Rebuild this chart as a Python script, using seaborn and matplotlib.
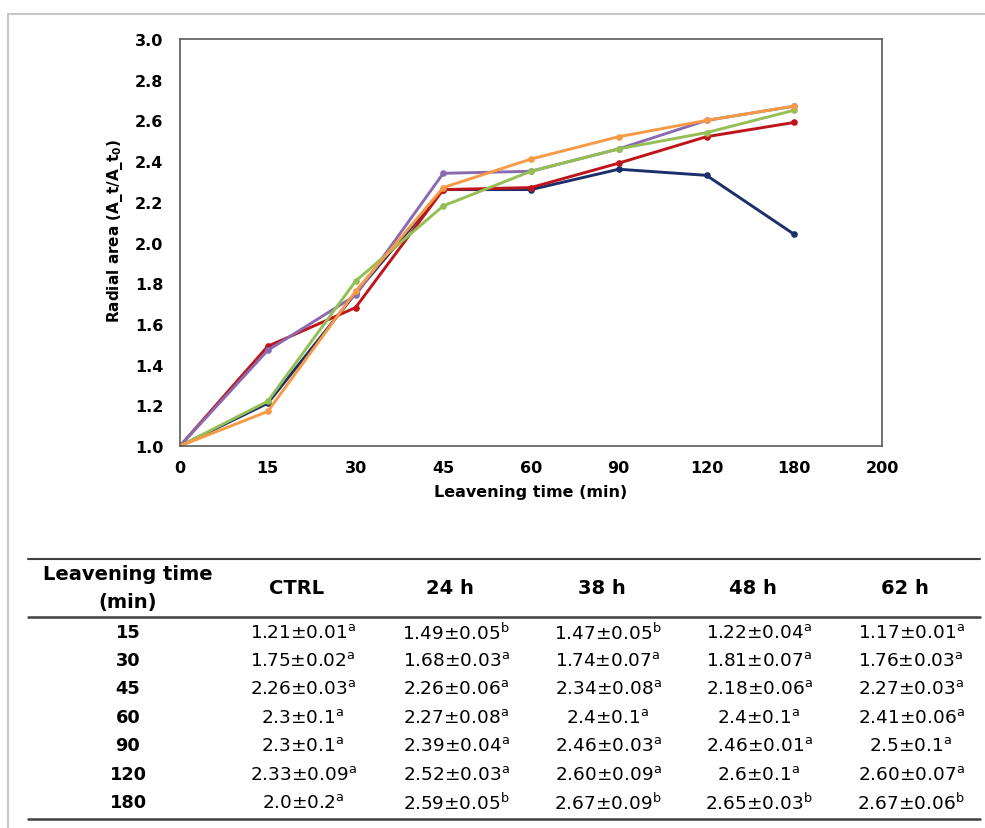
import numpy as np
import pandas as pd
import seaborn as sns
import matplotlib
matplotlib.use("Agg")
import matplotlib.pyplot as plt
from matplotlib.lines import Line2D

# ---------------- data ----------------
time_points = [0, 15, 30, 45, 60, 90, 120, 180]
x_tick_labels = ["0", "15", "30", "45", "60", "90", "120", "180", "200"]
series_names = ["CTRL", "24 h", "38 h", "48 h", "62 h"]
ctrl = [1.00, 1.21, 1.75, 2.26, 2.26, 2.36, 2.33, 2.04]
h24 = [1.00, 1.49, 1.68, 2.26, 2.27, 2.39, 2.52, 2.59]
h38 = [1.00, 1.47, 1.74, 2.34, 2.35, 2.46, 2.60, 2.67]
h48 = [1.00, 1.22, 1.81, 2.18, 2.35, 2.46, 2.54, 2.65]
h62 = [1.00, 1.17, 1.76, 2.27, 2.41, 2.52, 2.60, 2.67]
colors = ["#1B2F6B", "#C0141B", "#8A6BB0", "#94BF55", "#F79A46"]

table_rows = ["15", "30", "45", "60", "90", "120", "180"]
table_ctrl = ["1.21±0.01", "1.75±0.02", "2.26±0.03", "2.3±0.1", "2.3±0.1", "2.33±0.09", "2.0±0.2"]
table_24 = ["1.49±0.05", "1.68±0.03", "2.26±0.06", "2.27±0.08", "2.39±0.04", "2.52±0.03", "2.59±0.05"]
table_38 = ["1.47±0.05", "1.74±0.07", "2.34±0.08", "2.4±0.1", "2.46±0.03", "2.60±0.09", "2.67±0.09"]
table_48 = ["1.22±0.04", "1.81±0.07", "2.18±0.06", "2.4±0.1", "2.46±0.01", "2.6±0.1", "2.65±0.03"]
table_62 = ["1.17±0.01", "1.76±0.03", "2.27±0.03", "2.41±0.06", "2.5±0.1", "2.60±0.07", "2.67±0.06"]
letters_ctrl = ["a", "a", "a", "a", "a", "a", "a"]
letters_24 = ["b", "a", "a", "a", "a", "a", "b"]
letters_38 = ["b", "a", "a", "a", "a", "a", "b"]
letters_48 = ["a", "a", "a", "a", "a", "a", "b"]
letters_62 = ["a", "a", "a", "a", "a", "a", "b"]

# ---------------- style ----------------
sns.set_style("white")
plt.rcParams["font.family"] = ["DejaVu Sans"]
plt.rcParams["mathtext.fontset"] = "dejavusans"
plt.rcParams["text.color"] = "black"
plt.rcParams["axes.labelcolor"] = "black"
plt.rcParams["xtick.color"] = "black"
plt.rcParams["ytick.color"] = "black"

W, H = 985, 829
fig = plt.figure(figsize=(W / 100, H / 100), dpi=100)

def fx(px):
    return px / W

def fy(py):
    return 1 - py / H

ax = fig.add_axes([fx(180), fy(447), fx(882) - fx(180), fy(40) - fy(447)])

all_vals = [ctrl, h24, h38, h48, h62]
records = []
for name, vals in zip(series_names, all_vals):
    for i, (t, v) in enumerate(zip(time_points, vals)):
        records.append({"series": name, "pos": i, "time": t, "value": v})
df = pd.DataFrame(records)

sns.lineplot(data=df, x="pos", y="value", hue="series", hue_order=series_names,
             palette=colors, marker="o", markersize=4.8, markeredgewidth=0,
             linewidth=2.1, legend=False, ax=ax, errorbar=None, estimator=None)

spine_col = "#5a5a5a"
for s in ax.spines.values():
    s.set_color(spine_col)
    s.set_linewidth(1.2)
ax.set_xlim(0, len(x_tick_labels) - 1)
ax.set_ylim(1.0, 3.0)
ax.set_xticks(range(len(x_tick_labels)))
ax.set_xticklabels(x_tick_labels)
ax.set_yticks(np.arange(1.0, 3.01, 0.2))
ax.set_yticklabels([f"{v:.1f}" for v in np.arange(1.0, 3.01, 0.2)])
ax.tick_params(axis="both", direction="out", length=4, width=1.2, color=spine_col,
               labelcolor="black", labelsize=11.5, pad=6)
ax.tick_params(axis="y", pad=8)
for lab in ax.get_xticklabels() + ax.get_yticklabels():
    lab.set_fontweight("bold")
ax.set_xlabel("Leavening time (min)", fontsize=11.5, fontweight="bold")
ax.set_ylabel(r"Radial area (A_t/A_t$_\mathbf{0}$)", fontsize=11, fontweight="bold")
ax.xaxis.label.set_va("center")
ax.xaxis.set_label_coords(0.5, (447 - 493) / 407)
ax.yaxis.label.set_va("center")
ax.yaxis.set_label_coords((115 - 180) / 702, (447 - 231) / 407)

# ---------------- outer gray border ----------------
fig.add_artist(Line2D([fx(8), fx(985)], [fy(15), fy(15)], color="#c8c8c8", lw=1.5))
fig.add_artist(Line2D([fx(8), fx(8)], [fy(15), fy(829)], color="#c8c8c8", lw=1.5))

# ---------------- table ----------------
line_col = "#404040"
fig.add_artist(Line2D([fx(28), fx(980)], [fy(560), fy(560)], color=line_col, lw=1.5))
fig.add_artist(Line2D([fx(28), fx(980)], [fy(618), fy(618)], color=line_col, lw=1.8))
fig.add_artist(Line2D([fx(28), fx(980)], [fy(820), fy(820)], color=line_col, lw=1.8))

col_x = [128, 303, 456, 608, 759, 911]
hdr_fs = 14
row_fs = 12.8
cell_fs = 13.3
fig.text(fx(col_x[0]), fy(575), "Leavening time", ha="center", va="center",
         fontsize=hdr_fs, fontweight="bold")
fig.text(fx(col_x[0]), fy(603), "(min)", ha="center", va="center",
         fontsize=hdr_fs, fontweight="bold")
for cx, name in zip(col_x[1:], series_names):
    fig.text(fx(cx - 6), fy(589), name, ha="center", va="center", fontsize=hdr_fs, fontweight="bold")

row_y = [633, 661, 689, 718, 746, 775, 803]
cols = [table_ctrl, table_24, table_38, table_48, table_62]
lets = [letters_ctrl, letters_24, letters_38, letters_48, letters_62]
for ry, rl in zip(row_y, table_rows):
    fig.text(fx(col_x[0]), fy(ry), rl, ha="center", va="center", fontsize=row_fs, fontweight="bold")
for cx, col, let in zip(col_x[1:], cols, lets):
    for ry, val, l in zip(row_y, col, let):
        fig.text(fx(cx), fy(ry), val + r"$^{\mathrm{" + l + "}}$", ha="center", va="center",
                 fontsize=cell_fs)

fig.savefig("out.png", dpi=100)
